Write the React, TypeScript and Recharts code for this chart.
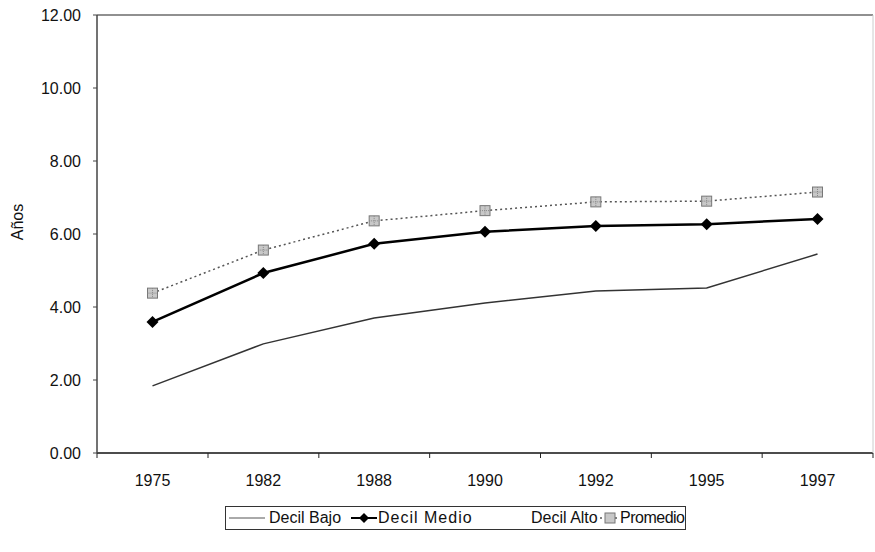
import { LineChart, Line, XAxis, YAxis, ReferenceLine } from 'recharts';

const years = ['1975', '1982', '1988', '1990', '1992', '1995', '1997'];
const decilBajo = [1.84, 2.99, 3.7, 4.11, 4.44, 4.52, 5.45];
const decilMedio = [3.59, 4.93, 5.73, 6.06, 6.22, 6.27, 6.41];
const decilAlto: (number | null)[] = [null, null, null, null, null, null, null];
const promedio = [4.38, 5.56, 6.36, 6.64, 6.88, 6.9, 7.15];
const yTicks = [0, 2, 4, 6, 8, 10, 12];

const data = years.map((y, i) => ({
	year: y,
	bajo: decilBajo[i],
	medio: decilMedio[i],
	alto: decilAlto[i],
	promedio: promedio[i],
}));

const W = 875;
const H = 552;
const LEFT = 97;
const RIGHT = 1;
const HALF_BAND = (W - LEFT - RIGHT) / years.length / 2;
const font = '"Liberation Sans", Arial, sans-serif';

const Diamond = (props: any) => {
	const { cx, cy } = props;
	if (cx == null || cy == null) return null;
	return <path d={`M${cx},${cy - 6}L${cx + 6},${cy}L${cx},${cy + 6}L${cx - 6},${cy}Z`} fill='#000' />;
};

const Square = (props: any) => {
	const { cx, cy } = props;
	if (cx == null || cy == null) return null;
	return (
		<g>
			<rect x={cx - 5} y={cy - 5} width={10} height={10} fill='#c8c8c8' stroke='#777' strokeWidth={1} />
			<path d={`M${cx - 5},${cy}H${cx + 5}M${cx},${cy - 5}V${cy + 5}`} stroke='#888' strokeWidth={1} strokeDasharray='1 1' />
		</g>
	);
};

const XTick = (props: any) => {
	const { x, y, payload, index } = props;
	return (
		<g>
			<line x1={x + HALF_BAND} x2={x + HALF_BAND} y1={y - 8} y2={y - 3} stroke='#222' />
			{index === 0 && <line x1={x - HALF_BAND} x2={x - HALF_BAND} y1={y - 8} y2={y - 3} stroke='#222' />}
			<text x={x} y={y + 25} textAnchor='middle' fontSize={16} fill='#111' fontFamily={font}>
				{payload.value}
			</text>
		</g>
	);
};

const item = (left: number): React.CSSProperties => ({ position: 'absolute', left, top: 2 });

const LegendBox = () => (
	<div
		style={{
			position: 'absolute',
			left: 225,
			top: 506,
			width: 461,
			height: 24,
			border: '1px solid #333',
			boxSizing: 'border-box',
			fontFamily: font,
			fontSize: 16,
			lineHeight: '18px',
			color: '#111',
			whiteSpace: 'nowrap',
		}}>
		<svg width={40} height={18} style={item(1)}>
			<line x1={2} x2={38} y1={9} y2={9} stroke='#555' strokeWidth={1} />
		</svg>
		<span style={item(43)}>Decil Bajo</span>
		<svg width={28} height={18} style={item(124)}>
			<line x1={1} x2={27} y1={9} y2={9} stroke='#000' strokeWidth={2} />
			<path d='M14,4L19,9L14,14L9,9Z' fill='#000' />
		</svg>
		<span style={{ ...item(152), letterSpacing: 1 }}>Decil Medio</span>
		<span style={item(305)}>Decil Alto</span>
		<svg width={22} height={18} style={item(373)}>
			<line x1={1} x2={21} y1={9} y2={9} stroke='#555' strokeWidth={1.5} strokeDasharray='2 3' />
			<rect x={6} y={4} width={10} height={10} fill='#c8c8c8' stroke='#777' />
		</svg>
		<span style={{ ...item(394), letterSpacing: -0.5 }}>Promedio</span>
	</div>
);

export default function App() {
	return (
		<div style={{ position: 'absolute', left: 0, top: 0, width: W, height: H, background: '#fff' }}>
			<LineChart width={W} height={H} data={data} margin={{ top: 15, right: RIGHT, left: 0, bottom: 59 }}>
				<XAxis
					dataKey='year'
					height={40}
					tick={<XTick />}
					tickLine={false}
					axisLine={{ stroke: '#111', strokeWidth: 1.5 }}
					interval={0}
					padding={{ left: HALF_BAND, right: HALF_BAND }}
				/>
				<YAxis
					width={LEFT}
					domain={[0, 12]}
					ticks={yTicks}
					allowDataOverflow
					tickFormatter={(v: number) => v.toFixed(2)}
					tick={{ fontSize: 16, fill: '#111', fontFamily: font }}
					tickSize={4}
					tickMargin={12}
					tickLine={{ stroke: '#444' }}
					axisLine={{ stroke: '#444', strokeWidth: 1.5 }}
					label={{ value: 'Años', angle: -90, position: 'center', dx: -31, dy: -12, fontSize: 16, fill: '#111', fontFamily: font }}
				/>
				<YAxis yAxisId='r' orientation='right' width={1} tick={false} tickLine={false} axisLine={{ stroke: '#ccc' }} />
				<ReferenceLine y={12} stroke='#222' strokeWidth={1.2} />
				<Line dataKey='bajo' name='Decil Bajo' stroke='#333' strokeWidth={1.5} dot={false} isAnimationActive={false} />
				<Line dataKey='medio' name='Decil Medio' stroke='#000' strokeWidth={2.5} dot={<Diamond />} isAnimationActive={false} />
				<Line dataKey='alto' name='Decil Alto' stroke='none' dot={false} isAnimationActive={false} />
				<Line
					dataKey='promedio'
					name='Promedio'
					stroke='#555'
					strokeWidth={1.5}
					strokeDasharray='2 3'
					dot={<Square />}
					isAnimationActive={false}
				/>
			</LineChart>
			<LegendBox />
		</div>
	);
}
